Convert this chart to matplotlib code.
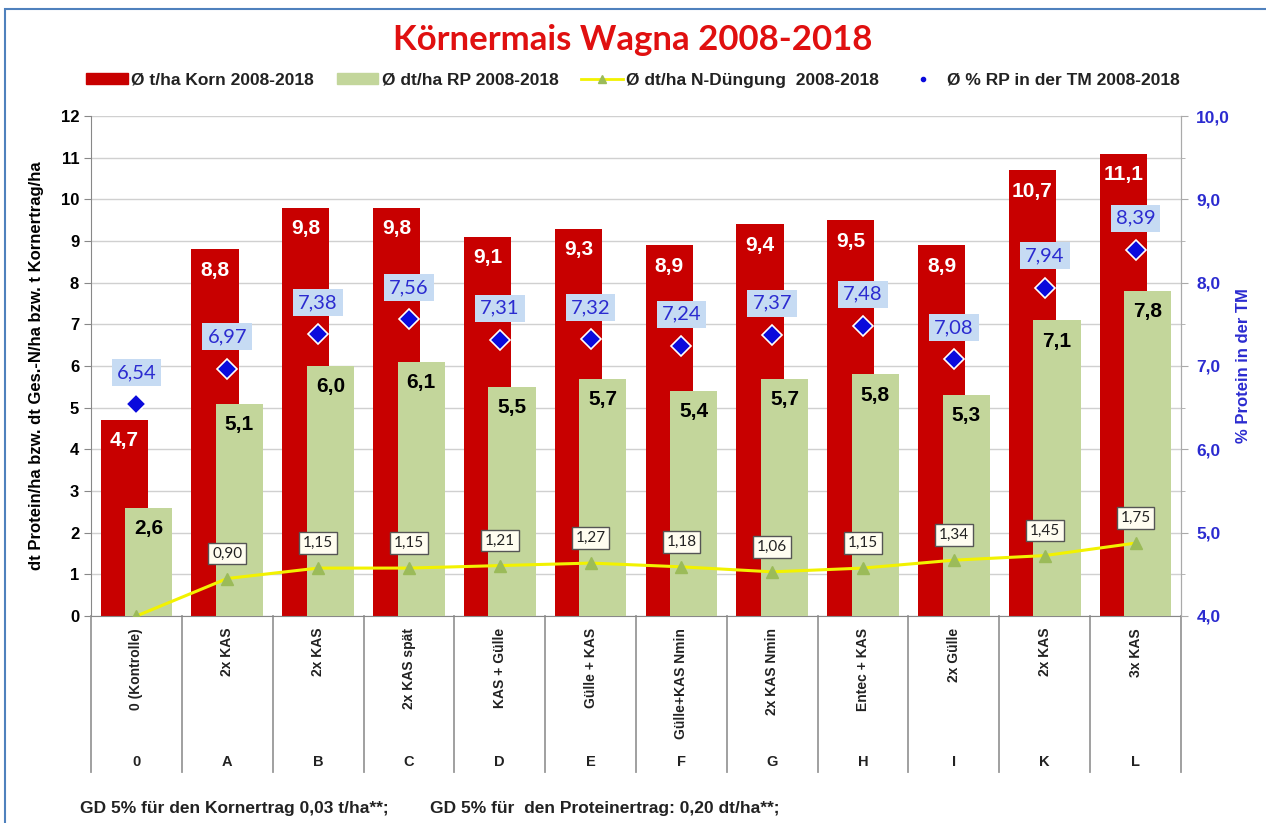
import numpy as np
import matplotlib
matplotlib.use("Agg")
import matplotlib.pyplot as plt
from matplotlib.lines import Line2D
from matplotlib.patches import Patch, Rectangle
import matplotlib.transforms as mtransforms

plt.rcParams['font.family'] = ['Liberation Sans', 'DejaVu Sans']

# ---- data ----
treatments = ["0 (Kontrolle)", "2x KAS", "2x KAS", "2x KAS spät", "KAS + Gülle", "Gülle + KAS",
              "Gülle+KAS Nmin", "2x KAS Nmin", "Entec + KAS", "2x Gülle", "2x KAS", "3x KAS"]
letters = ["0", "A", "B", "C", "D", "E", "F", "G", "H", "I", "K", "L"]
korn = [4.7, 8.8, 9.8, 9.8, 9.1, 9.3, 8.9, 9.4, 9.5, 8.9, 10.7, 11.1]
rp = [2.6, 5.1, 6.0, 6.1, 5.5, 5.7, 5.4, 5.7, 5.8, 5.3, 7.1, 7.8]
n_dung = [0.0, 0.90, 1.15, 1.15, 1.21, 1.27, 1.18, 1.06, 1.15, 1.34, 1.45, 1.75]
rp_tm = [6.54, 6.97, 7.38, 7.56, 7.31, 7.32, 7.24, 7.37, 7.48, 7.08, 7.94, 8.39]

RED = "#C80000"
GREEN = "#C3D69B"
BLUE = "#0A0ADC"
TXTBLUE = "#2B2BD0"

def de(v, nd):
    return f"{v:.{nd}f}".replace(".", ",")

fig = plt.figure(figsize=(12.66, 8.23), dpi=100)
fig.patch.set_facecolor("white")

L, R, B, T = 91/1266, 1181/1266, 1-616/823, 1-116/823
ax = fig.add_axes([L, B, R-L, T-B])
ax2 = ax.twinx()

x = np.arange(len(korn))
w = 0.52
off = 0.135
ax.bar(x - off, korn, width=w, color=RED, zorder=2)
ax.bar(x + off, rp, width=w, color=GREEN, zorder=3)
ax.plot(x, n_dung, color="#F2F200", lw=2.2, marker="^", ms=8, mfc="#9BBB59", mec="#9BBB59", zorder=4)

ax.set_xlim(-0.5, len(korn) - 0.5)
ax.set_ylim(0, 12)
ax.set_yticks(range(0, 13))
ax.yaxis.grid(True, color="#D0D0D0", lw=1, zorder=0)
ax.set_axisbelow(True)
ax.set_xticks([])
ax.tick_params(axis="y", labelsize=12, direction="out", length=5, color="#888888")
for lab in ax.get_yticklabels():
    lab.set_fontweight("bold")
ax.spines["top"].set_visible(False)
ax.spines["left"].set_color("#888888")
ax.spines["bottom"].set_color("#888888")
ax.spines["right"].set_color("#AAAAAA")
ax.set_ylabel("dt Protein/ha bzw. dt Ges.-N/ha bzw. t Kornertrag/ha", fontsize=12, fontweight="bold", labelpad=12)

ax2.set_ylim(4, 10)
ax2.set_yticks(np.arange(4, 10.01, 1))
ax2.set_yticks(np.arange(4, 10.01, 0.5), minor=True)
ax2.set_yticklabels([de(v, 1) for v in np.arange(4, 10.01, 1)])
ax2.tick_params(axis="y", which="major", labelsize=12.5, labelcolor=TXTBLUE, length=5, color="#AAAAAA", pad=6)
ax2.tick_params(axis="y", which="minor", length=3, color="#AAAAAA")
for lab in ax2.get_yticklabels():
    lab.set_fontweight("bold")
for s in ["top", "left", "bottom"]:
    ax2.spines[s].set_visible(False)
ax2.spines["right"].set_color("#AAAAAA")
ax2.set_ylabel("% Protein in der TM", fontsize=12, fontweight="bold", color=TXTBLUE, labelpad=4)
ax2.plot(x, rp_tm, ls="none", marker="D", ms=10, mfc=BLUE, mec="white", mew=1.2, zorder=5)

# labels on bars
for i in range(len(korn)):
    ax.annotate(de(korn[i], 1), (x[i] - off, korn[i]), xytext=(0, -15), textcoords="offset points",
                ha="center", va="center", color="white", fontsize=15, fontweight="bold", zorder=6)
    ax.annotate(de(rp[i], 1), (x[i] + off, rp[i]), xytext=(0, -15), textcoords="offset points",
                ha="center", va="center", color="black", fontsize=15, fontweight="bold", zorder=6)
    if n_dung[i] > 0:
        ax.annotate(de(n_dung[i], 2), (x[i], n_dung[i]), xytext=(0, 18), textcoords="offset points",
                    ha="center", va="center", color="#222222", fontsize=11, family="Lato", zorder=7,
                    bbox=dict(boxstyle="square,pad=0.25", fc="#FFFDF0", ec="#555555", lw=1))
    ax2.annotate(de(rp_tm[i], 2), (x[i], rp_tm[i]), xytext=(0, 23), textcoords="offset points",
                 ha="center", va="center", color=TXTBLUE, fontsize=14.5, family="Lato", zorder=7,
                 bbox=dict(boxstyle="square,pad=0.25", fc="#C6DBF3", ec="none"))

# category label area
tr = mtransforms.blended_transform_factory(ax.transData, ax.transAxes)
y_end = -(772 - 616) / 500
for b in np.arange(-0.5, len(korn), 1.0):
    ax.add_line(Line2D([b, b], [0, y_end], transform=tr, color="#999999", lw=1.3, clip_on=False))
for i in range(len(korn)):
    ax.text(x[i], -(628 - 616) / 500, treatments[i], transform=tr, rotation=90, ha="center", va="top",
            fontsize=10, fontweight="bold", color="#222222")
    ax.text(x[i], -(762 - 616) / 500, letters[i], transform=tr, ha="center", va="center",
            fontsize=10.5, fontweight="bold", color="#222222")

# title, legend, footer
fig.text(0.5, 1 - 40/823, "Körnermais Wagna 2008-2018", ha="center", va="center",
         fontsize=25, fontweight="bold", color="#E01010", family="Lato")

handles = [Patch(color=RED), Patch(color=GREEN),
           Line2D([], [], color="#F2F200", lw=2, marker="^", mfc="#9BBB59", mec="#9BBB59", ms=6),
           Line2D([], [], ls="none", marker="o", color=BLUE, ms=3)]
labels = ["Ø t/ha Korn 2008-2018", "Ø dt/ha RP 2008-2018", "Ø dt/ha N-Düngung  2008-2018",
          "Ø % RP in der TM 2008-2018"]
leg = fig.legend(handles, labels, loc="center", bbox_to_anchor=(0.5, 1 - 80/823), ncol=4, frameon=False,
                 prop=dict(size=12.5, weight="bold"), columnspacing=1.3, handlelength=2.4, handleheight=0.55,
                 handletextpad=0.2)
for t in leg.get_texts():
    t.set_color("#222222")

fig.text(80/1266, 1 - 808/823, "GD 5% für den Kornertrag 0,03 t/ha**;", ha="left", va="center",
         fontsize=12.5, fontweight="bold", color="#222222")
fig.text(430/1266, 1 - 808/823, "GD 5% für  den Proteinertrag: 0,20 dt/ha**;", ha="left", va="center",
         fontsize=12.5, fontweight="bold", color="#222222")

fig.add_artist(Rectangle((5/1266, -0.05), 1.1, 1 - 9/823 + 0.05, transform=fig.transFigure,
                         fill=False, ec="#4F81BD", lw=1.5))

fig.savefig("out.png", dpi=100)
